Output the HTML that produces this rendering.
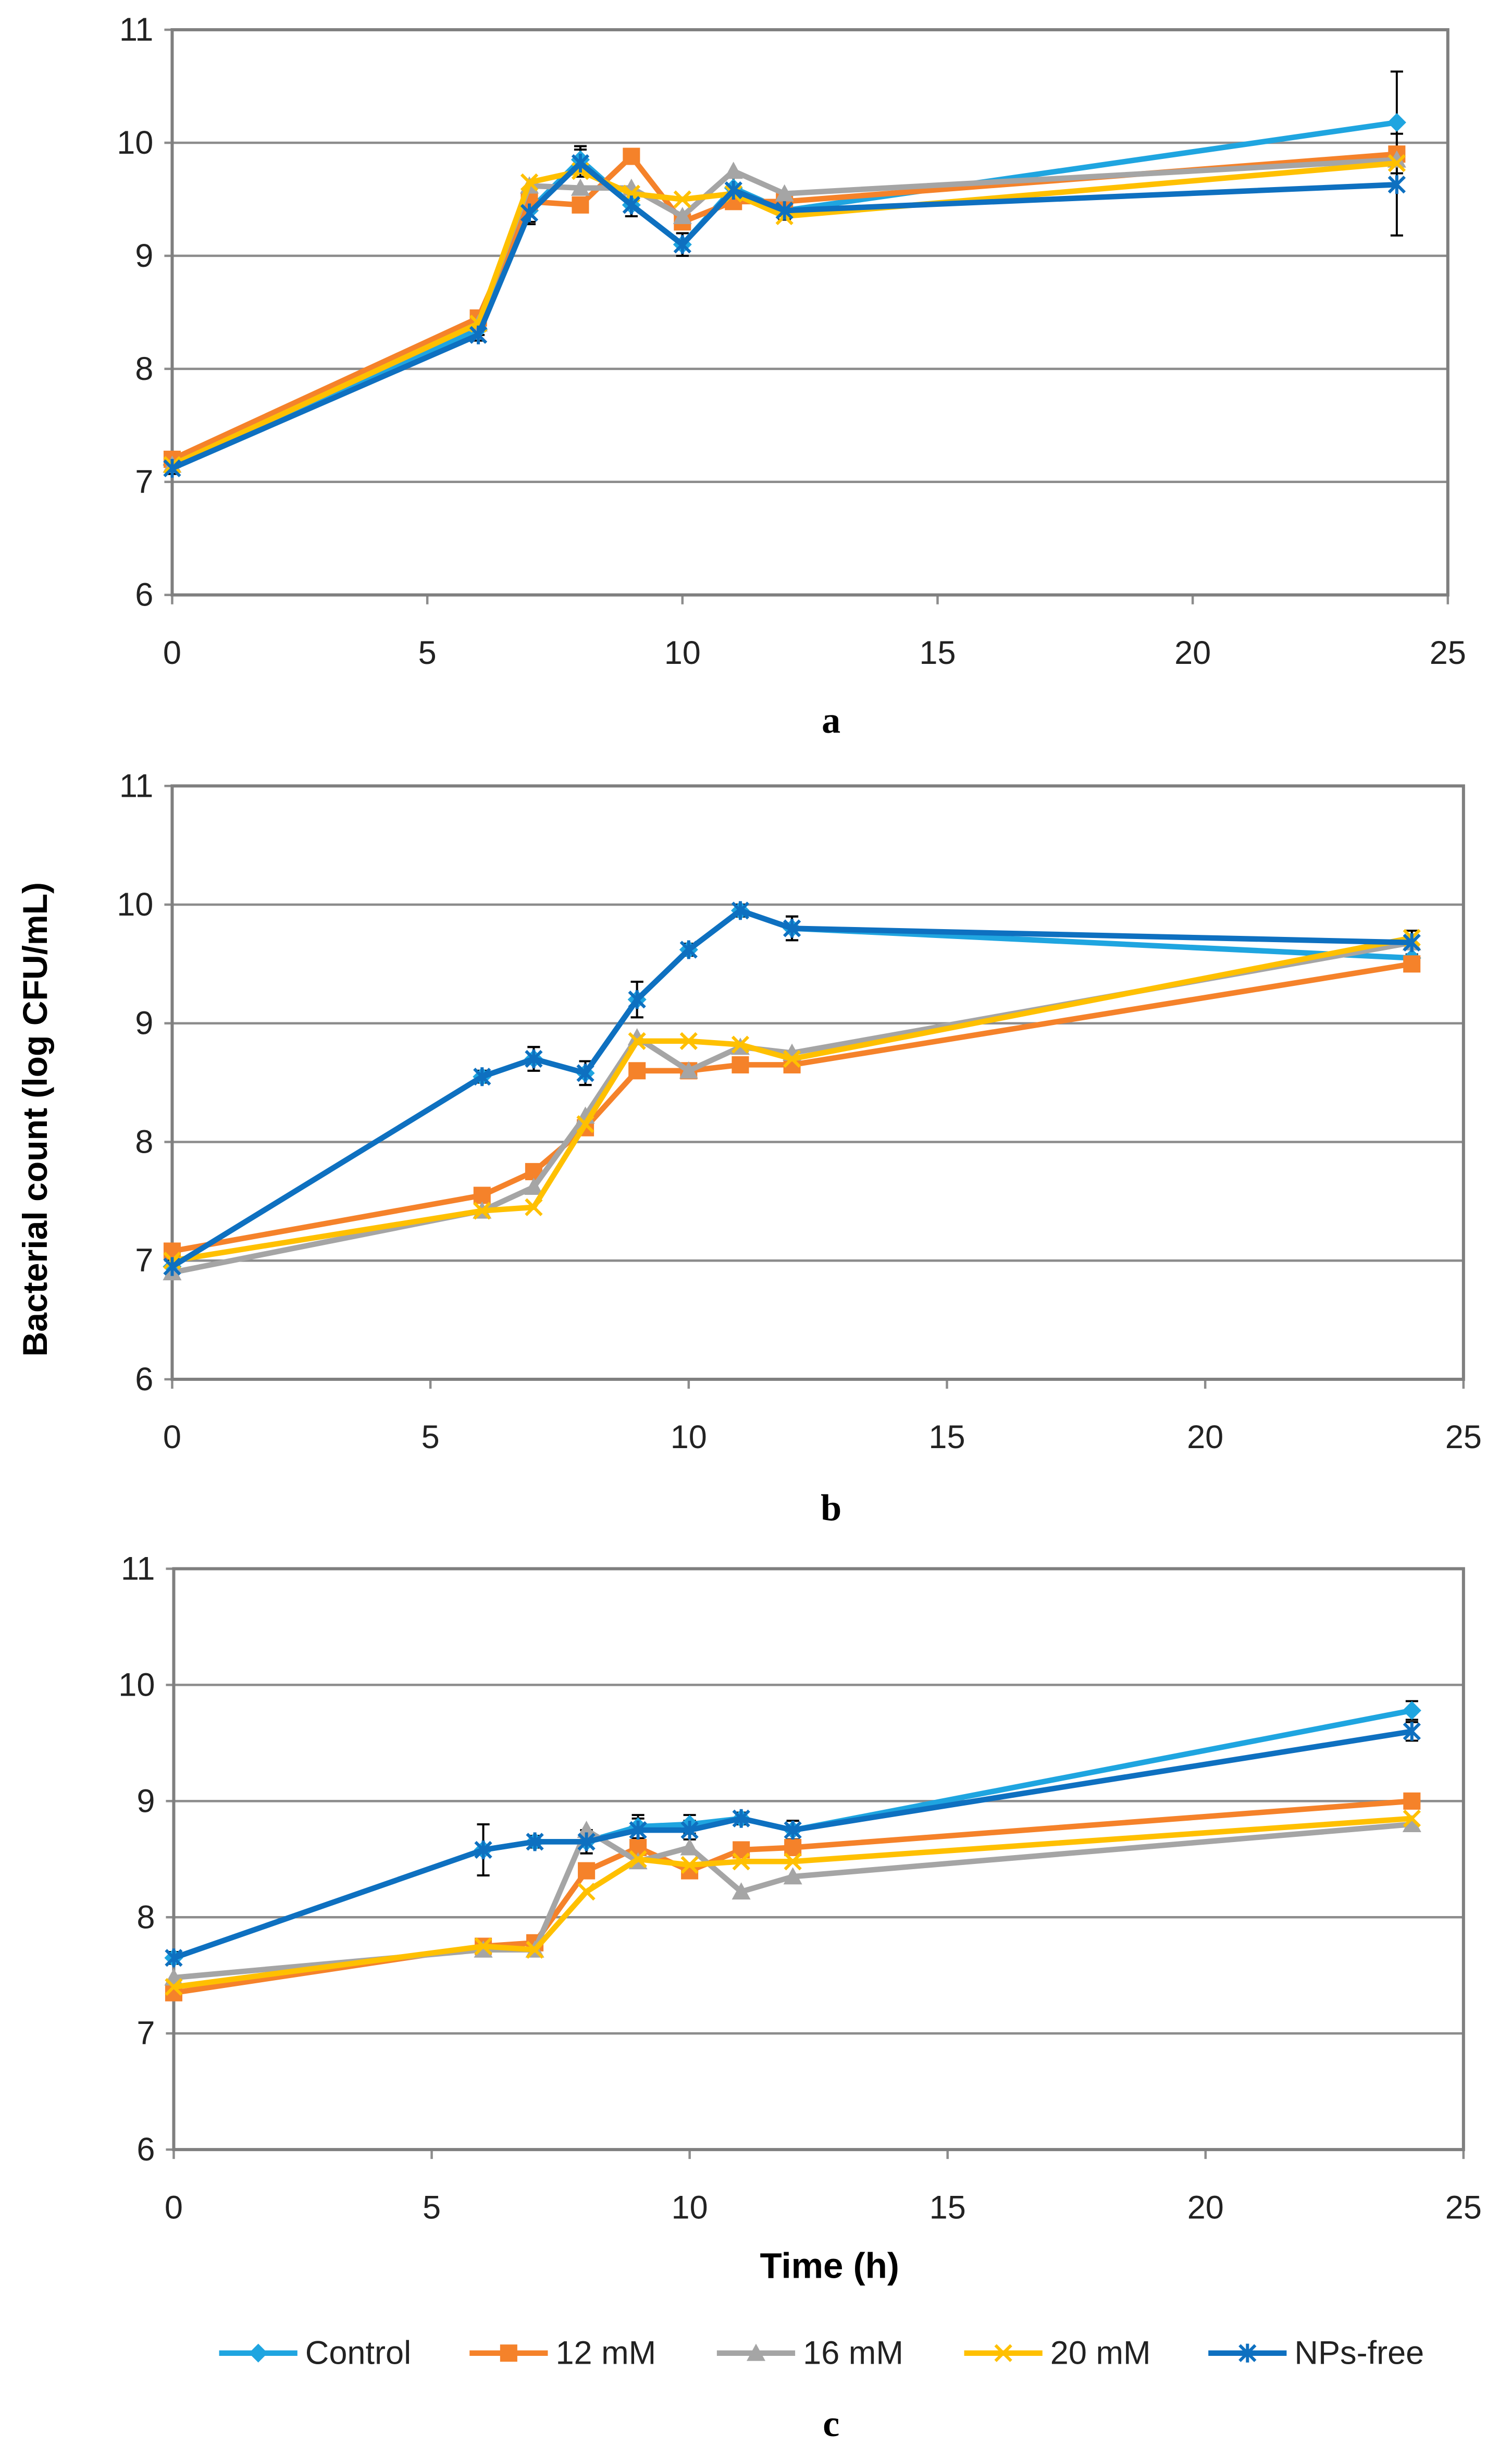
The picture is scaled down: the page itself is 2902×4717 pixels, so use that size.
<!DOCTYPE html>
<html><head><meta charset="utf-8"><style>
html,body{margin:0;padding:0;background:#fff}
svg{display:block}
text{font-family:"Liberation Sans",sans-serif}
</style></head><body>
<svg id="chart" width="2902" height="4717" viewBox="0 0 966 1570" preserveAspectRatio="none" xmlns="http://www.w3.org/2000/svg">
<text x="30" y="715" font-size="22" font-weight="bold" text-anchor="middle" transform="rotate(-90 30 715)">Bacterial count (log CFU/mL)</text>
<text x="530" y="1455" font-size="23" font-weight="bold" text-anchor="middle">Time (h)</text>
<text x="531" y="468" font-size="24" font-weight="bold" text-anchor="middle" style="font-family:'Liberation Serif',serif">a</text>
<text x="531" y="971" font-size="24" font-weight="bold" text-anchor="middle" style="font-family:'Liberation Serif',serif">b</text>
<text x="531" y="1556" font-size="24" font-weight="bold" text-anchor="middle" style="font-family:'Liberation Serif',serif">c</text>
</svg>
<script>
const times=[0,6,7,8,9,10,11,12,24];
const seriesNames=["Control","12 mM","16 mM","20 mM","NPs-free"];
const xTicks=[0,5,10,15,20,25];
const yTicks=[6,7,8,9,10,11];
const aControl=[7.15,8.35,9.4,9.85,9.45,9.1,9.6,9.4,10.18];
const a12=[7.2,8.45,9.48,9.45,9.88,9.3,9.48,9.48,9.9];
const a16=[7.15,8.4,9.62,9.6,9.6,9.35,9.75,9.55,9.85];
const a20=[7.15,8.4,9.65,9.75,9.55,9.5,9.55,9.35,9.82];
const aNP=[7.12,8.3,9.38,9.82,9.45,9.1,9.58,9.4,9.63];
const bControl=[6.95,8.55,8.7,8.58,9.2,9.62,9.95,9.8,9.55];
const b12=[7.08,7.55,7.75,8.12,8.6,8.6,8.65,8.65,9.5];
const b16=[6.9,7.42,7.62,8.22,8.88,8.6,8.8,8.75,9.68];
const b20=[7.0,7.42,7.45,8.15,8.85,8.85,8.82,8.7,9.72];
const bNP=[6.95,8.55,8.7,8.58,9.2,9.62,9.95,9.8,9.68];
const cControl=[7.65,8.58,8.65,8.65,8.78,8.8,8.85,8.75,9.78];
const c12=[7.35,7.75,7.78,8.4,8.6,8.4,8.58,8.6,9.0];
const c16=[7.48,7.72,7.72,8.75,8.48,8.6,8.22,8.35,8.8];
const c20=[7.4,7.75,7.72,8.22,8.5,8.45,8.48,8.48,8.85];
const cNP=[7.65,8.58,8.65,8.65,8.75,8.75,8.85,8.75,9.6];
const aErr=[0.05,0.05,0.1,0.12,0.1,0.1,0.12,0.08,0.45];
const bErr=[0.05,0.05,0.1,0.1,0.15,0.05,0.05,0.1,0.1];
const cErr=[0.05,0.22,0.05,0.1,0.1,0.08,0.05,0.08,0.08];
const colors=["#1fa5e0","#f5822a","#a5a5a5","#ffc000","#0e70c0"];
const markers=["diamond","square","triangle","x","star"];
const panels=[
 {id:"a",x0:110,x1:925,y0:380,y1:19,data:[aControl,a12,a16,a20,aNP],err:aErr},
 {id:"b",x0:110,x1:935,y0:881,y1:502,data:[bControl,b12,b16,b20,bNP],err:bErr},
 {id:"c",x0:111,x1:935,y0:1373,y1:1002,data:[cControl,c12,c16,c20,cNP],err:cErr}
];
const svg=document.getElementById('chart');
const NS="http://www.w3.org/2000/svg";
function mk(tag,attrs,parent){const e=document.createElementNS(NS,tag);for(const k in attrs)e.setAttribute(k,attrs[k]);(parent||svg).appendChild(e);return e;}
function marker(g,type,x,y,c){
 let e;
 if(type==="diamond")e=mk('polygon',{points:`${x},${y-6} ${x+6},${y} ${x},${y+6} ${x-6},${y}`,fill:c},g);
 else if(type==="square")e=mk('rect',{x:x-5.5,y:y-5.5,width:11,height:11,fill:c},g);
 else if(type==="triangle")e=mk('polygon',{points:`${x},${y-6} ${x+6},${y+5} ${x-6},${y+5}`,fill:c},g);
 else if(type==="x")e=mk('path',{d:`M${x-5} ${y-5}L${x+5} ${y+5}M${x+5} ${y-5}L${x-5} ${y+5}`,stroke:c,'stroke-width':2},g);
 else e=mk('path',{d:`M${x-5} ${y-5}L${x+5} ${y+5}M${x+5} ${y-5}L${x-5} ${y+5}M${x} ${y-6}L${x} ${y+6}`,stroke:c,'stroke-width':2},g);
 
 
}
panels.forEach(p=>{
 const sx=v=>p.x0+(v-xTicks[0])/(xTicks[xTicks.length-1]-xTicks[0])*(p.x1-p.x0);
 const sy=v=>p.y0+(v-yTicks[0])/(yTicks[yTicks.length-1]-yTicks[0])*(p.y1-p.y0);
 const g=mk('g',{});
 
 
 yTicks.forEach(t=>{
  const y=sy(t);
  const l=mk('line',{x1:p.x0,x2:p.x1,y1:y,y2:y,stroke:'#8c8c8c','stroke-width':1.5},g);
  
  
  const tk=mk('line',{x1:p.x0-5,x2:p.x0,y1:y,y2:y,stroke:'#8c8c8c','stroke-width':1.5},g);
  
  
  const tx=mk('text',{x:p.x0-12,y:y+7,'font-size':21,'text-anchor':'end',fill:'#222'},g);
  tx.textContent=t;
  
  
 });
 xTicks.forEach(t=>{
  const x=sx(t);
  const tk=mk('line',{x1:x,x2:x,y1:p.y0,y2:p.y0+6,stroke:'#8c8c8c','stroke-width':1.5},g);
  
  
  const tx=mk('text',{x:x,y:p.y0+44,'font-size':21,'text-anchor':'middle',fill:'#222'},g);
  tx.textContent=t;
  
  
 });
 const fr=mk('rect',{x:p.x0,y:p.y1,width:p.x1-p.x0,height:p.y0-p.y1,fill:'none',stroke:'#7f7f7f','stroke-width':2},g);
 
 
 [0,4].forEach(si=>{
  p.data[si].forEach((v,i)=>{
   const e=p.err[i],x=sx(times[i]);
   const eb=mk('path',{d:`M${x} ${sy(v-e)}L${x} ${sy(v+e)}M${x-4} ${sy(v-e)}L${x+4} ${sy(v-e)}M${x-4} ${sy(v+e)}L${x+4} ${sy(v+e)}`,stroke:'#000','stroke-width':1.3,fill:'none'},g);
   
   
  });
 });
 p.data.forEach((vals,si)=>{
  const sg=mk('g',{},g);
  
  
  const pts=vals.map((v,i)=>sx(times[i])+','+sy(v)).join(' ');
  const pl=mk('polyline',{points:pts,fill:'none',stroke:colors[si],'stroke-width':3.5,'stroke-linejoin':'round'},sg);
  
  
  vals.forEach((v,i)=>marker(sg,markers[si],sx(times[i]),sy(v),colors[si]));
 });
});
const lg=mk('g',{});


const lx=[140,300,458,616,772];
seriesNames.forEach((n,i)=>{
 const eg=mk('g',{},lg);
 
 
 const y=1503;
 mk('line',{x1:lx[i],x2:lx[i]+50,y1:y,y2:y,stroke:colors[i],'stroke-width':3.5},eg);
 marker(eg,markers[i],lx[i]+25,y,colors[i]);
 const t=mk('text',{x:lx[i]+55,y:y+7,'font-size':21,fill:'#222'},eg);
 t.textContent=n;
});
</script>
</body></html>
